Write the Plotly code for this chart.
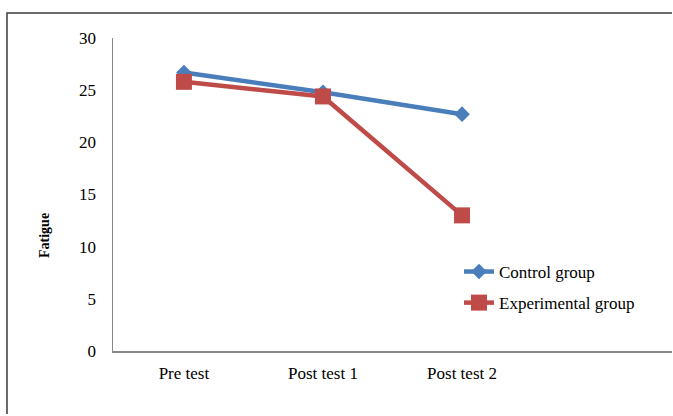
import plotly.graph_objects as go

categories = ["Pre test", "Post test 1", "Post test 2"]
control = [26.7, 24.8, 22.7]
experimental = [25.8, 24.4, 13.0]
y_ticks = [0, 5, 10, 15, 20, 25, 30]

BLUE = "#4A7EBB"
RED = "#BE4B48"
FONT = "Liberation Serif"

xpos = list(range(len(categories)))

# plot area: x 113..672, y 38..351 (figure kept 1px inside the window)
L, T, B_AX, W, H = 113, 38, 351, 672, 414
PW, PH = W - L, B_AX - T

fig = go.Figure()
fig.add_trace(go.Scatter(
    x=xpos, y=control, name="Control group", mode="lines+markers",
    line=dict(color=BLUE, width=4.5),
    marker=dict(symbol="diamond", size=12, color=BLUE),
    legendgroup="a",
))
fig.add_trace(go.Scatter(
    x=xpos, y=experimental, name="Experimental group", mode="lines+markers",
    line=dict(color=RED, width=4.5),
    marker=dict(symbol="square", size=16, color=RED),
    legendgroup="b",
))

# chart frame (left and top edges only; right and bottom lie outside the crop)
fx0 = (7 - L) / PW
fy1 = (B_AX - 13) / PH
frame_path = f"M {fx0},-0.3 L {fx0},{fy1} L 1.02,{fy1}"

fig.update_layout(
    width=W, height=H,
    margin=dict(l=L, r=0, t=T, b=H - B_AX),
    paper_bgcolor="white", plot_bgcolor="white",
    font=dict(family=FONT, size=17, color="#000000"),
    showlegend=True,
    hovermode=False,
    legend=dict(
        x=(459 - L) / PW, xanchor="left", y=0.31, yanchor="top",
        bgcolor="rgba(0,0,0,0)", tracegroupgap=6,
        font=dict(family=FONT, size=17, color="#000000"),
        itemwidth=30,
    ),
    xaxis=dict(
        range=[-0.51, 3.51], tickvals=xpos, ticktext=categories,
        showgrid=False, zeroline=False, showline=True,
        linecolor="#888888", linewidth=1.5, ticks="",
        ticklabelstandoff=6, fixedrange=True,
        tickfont=dict(family=FONT, size=17),
    ),
    yaxis=dict(
        range=[0, 30], tickvals=y_ticks, showgrid=False, zeroline=False,
        showline=True, linecolor="#888888", linewidth=1.5, ticks="",
        ticklabelstandoff=12, fixedrange=True,
        tickfont=dict(family=FONT, size=17),
    ),
    annotations=[dict(
        text="<b>Fatigue</b>", xref="paper", yref="paper",
        x=(44 - L) / PW, y=(B_AX - 236) / PH, xanchor="center", yanchor="middle",
        textangle=-90, showarrow=False,
        font=dict(family=FONT, size=14, color="#000000"),
    )],
    shapes=[dict(
        type="path", xref="paper", yref="paper", path=frame_path,
        line=dict(color="#3a3a3a", width=1.5), layer="below",
    )],
)

fig.write_html(
    "out.html",
    config={"displayModeBar": False, "staticPlot": True},
    post_script=(
        "document.documentElement.style.overflow='hidden';"
        "document.body.style.margin='0';document.body.style.overflow='hidden';"
    ),
)
